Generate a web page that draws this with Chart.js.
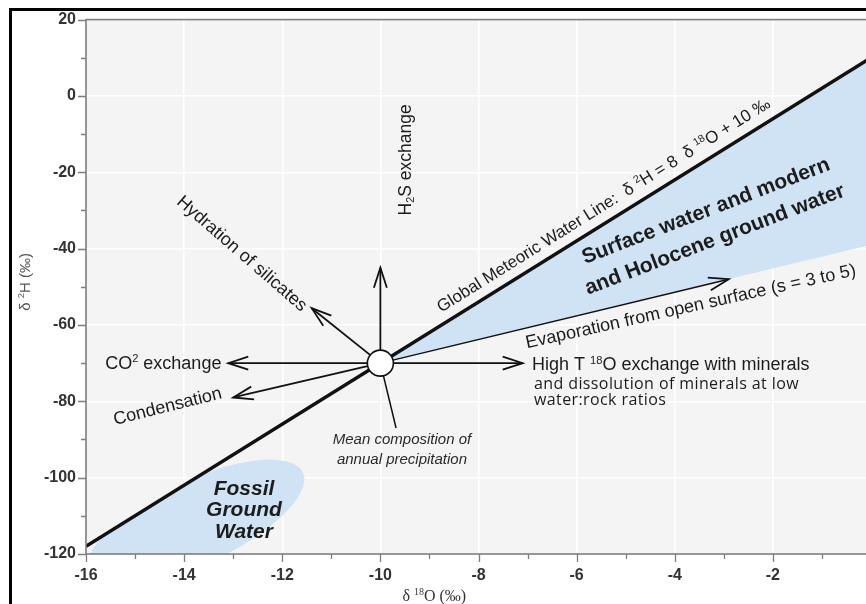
<!DOCTYPE html>
<html>
<head>
<meta charset="utf-8">
<script src="https://cdn.jsdelivr.net/npm/chart.js@4.4.1/dist/chart.umd.min.js"></script>
<style>
  html, body { margin: 0; padding: 0; background: #fff; overflow: hidden; }
  #wrap { position: relative; width: 890px; height: 604px; }
  #frame { position: absolute; left: 9px; top: 8px; width: 900px; height: 700px;
           border-left: 3px solid #000; border-top: 3px solid #000; pointer-events: none; }
</style>
</head>
<body>
<div id="wrap">
  <canvas id="isotopes" width="890" height="604"></canvas>
  <div id="frame"></div>
</div>
<script>
// axis ticks
const xMajorTicks = [-16, -14, -12, -10, -8, -6, -4, -2, 0];
const xMinorTicks = [-15, -13, -11, -9, -7, -5, -3, -1];
const yMajorTicks = [20, 0, -20, -40, -60, -80, -100, -120];
const yMinorTicks = [10, -10, -30, -50, -70, -90, -110];

// global meteoric water line, d2H = 8 d18O + 10
const gmwlX = [-16, 0];
const gmwlY = [-118, 10];

// mean composition of annual precipitation
const meanPrecip = [-10, -70];
const meanLineEnd = [-9.68, -87];

// surface / holocene water wedge between GMWL and evaporation line
const surfaceX = [-10, 0, 0];
const surfaceY = [-70, 10, -39];

// process arrows, all starting from meanPrecip
const processNames = ['H2S exchange', 'Hydration of silicates', 'CO2 exchange', 'Condensation', 'High T 18O exchange', 'Evaporation'];
const processX = [-10, -11.4, -13.1, -13.0, -7.1, -2.9];
const processY = [-45, -55.6, -70, -79, -70, -48];

// fossil ground water patch (centre)
const fossilCentre = [-13.76, -111.7];

const SANS = "'Liberation Sans', Arial, Helvetica, sans-serif";
const SERIF = "'Liberation Serif', 'Times New Roman', serif";
const INK = '#1c1c1c';
const BLUE = '#cfe3f4';

// text with ^{sup} and _{sub} runs
function parseRich(str) {
  const parts = [];
  const re = /([\^_])\{([^}]*)\}/g;
  let last = 0, m;
  while ((m = re.exec(str))) {
    if (m.index > last) parts.push({ text: str.slice(last, m.index), shift: 0 });
    parts.push({ text: m[2], shift: m[1] === '^' ? 1 : -1 });
    last = re.lastIndex;
  }
  if (last < str.length) parts.push({ text: str.slice(last), shift: 0 });
  return parts;
}

function drawRich(ctx, str, x, y, o) {
  const parts = parseRich(str);
  const fontFor = p => `${o.style || 'normal'} ${o.weight || 'normal'} ${p.shift ? o.size * 0.62 : o.size}px ${o.family || SANS}`;
  ctx.save();
  ctx.letterSpacing = (o.spacing || 0) + 'px';
  let total = 0;
  parts.forEach(p => { ctx.font = fontFor(p); p.w = ctx.measureText(p.text).width; total += p.w; });
  ctx.translate(x, y);
  ctx.rotate((o.angle || 0) * Math.PI / 180);
  ctx.fillStyle = o.color || INK;
  ctx.textBaseline = 'alphabetic';
  ctx.textAlign = 'left';
  let cx = o.align === 'center' ? -total / 2 : o.align === 'right' ? -total : 0;
  parts.forEach(p => {
    ctx.font = fontFor(p);
    const dy = p.shift > 0 ? -o.size * 0.38 : p.shift < 0 ? o.size * 0.2 : 0;
    ctx.fillText(p.text, cx, dy);
    cx += p.w;
  });
  ctx.restore();
}

// labels placed in data units (left end of baseline unless centred)
const notes = [
  { text: 'Global Meteoric Water Line:  δ ^{2}H = 8  δ ^{18}O + 10 ‰', x: -8.76, y: -56.8, angle: -32, size: 17 },
  { text: 'Surface water and modern', x: -5.83, y: -44.0, angle: -21, size: 21, weight: 'bold' },
  { text: 'and Holocene ground water', x: -5.77, y: -52.1, angle: -21, size: 21, weight: 'bold' },
  { text: 'Evaporation from open surface (s = 3 to 5)', x: -7.01, y: -66.1, angle: -12.5, size: 18 },
  { text: 'High T ^{18}O exchange with minerals', x: -6.91, y: -71.9, size: 18 },
  { text: 'and dissolution of minerals at low', x: -6.87, y: -76.8, size: 16, spacing: 0.4, family: "'Open Sans', sans-serif" },
  { text: 'water:rock ratios', x: -6.87, y: -81.0, size: 16, spacing: 0.4, family: "'Open Sans', sans-serif" },
  { text: 'Mean composition of', x: -9.56, y: -91.1, size: 15, style: 'italic', align: 'center', color: '#2a2a2a' },
  { text: 'annual precipitation', x: -9.56, y: -96.3, size: 15, style: 'italic', align: 'center', color: '#2a2a2a' },
  { text: 'Hydration of silicates', x: -14.17, y: -28.1, angle: 41, size: 18 },
  { text: 'H_{2}S exchange', x: -9.38, y: -31.3, angle: -90, size: 17.5 },
  { text: 'CO^{2} exchange', x: -15.61, y: -71.6, size: 18 },
  { text: 'Condensation', x: -15.41, y: -86.2, angle: -14, size: 18 },
  { text: 'Fossil', x: -12.78, y: -104.6, size: 21, weight: 'bold', style: 'italic', align: 'center' },
  { text: 'Ground', x: -12.78, y: -110.1, size: 21, weight: 'bold', style: 'italic', align: 'center' },
  { text: 'Water', x: -12.78, y: -115.8, size: 21, weight: 'bold', style: 'italic', align: 'center' }
];

const plotBackground = {
  id: 'plotBackground',
  beforeDraw(chart) {
    const { ctx, chartArea: a } = chart;
    ctx.save();
    ctx.fillStyle = '#f4f4f4';
    ctx.fillRect(a.left, a.top, a.width, a.height);
    ctx.restore();
  }
};

// ellipse under the GMWL, clipped by it
const fossilPatch = {
  id: 'fossilPatch',
  beforeDatasetsDraw(chart) {
    const { ctx, chartArea: a, scales: { x, y } } = chart;
    ctx.save();
    ctx.beginPath();
    ctx.rect(a.left, a.top, a.width, a.height);
    ctx.clip();
    ctx.beginPath();
    ctx.moveTo(x.getPixelForValue(gmwlX[0]), y.getPixelForValue(gmwlY[0]));
    ctx.lineTo(x.getPixelForValue(gmwlX[1]), y.getPixelForValue(gmwlY[1]));
    ctx.lineTo(a.right, a.bottom);
    ctx.lineTo(a.left, a.bottom);
    ctx.closePath();
    ctx.clip();
    ctx.fillStyle = BLUE;
    ctx.beginPath();
    ctx.ellipse(x.getPixelForValue(fossilCentre[0]), y.getPixelForValue(fossilCentre[1]),
      118, 42, -25 * Math.PI / 180, 0, Math.PI * 2);
    ctx.fill();
    ctx.restore();
  }
};

const arrowHeads = {
  id: 'arrowHeads',
  afterDatasetsDraw(chart) {
    const { ctx } = chart;
    chart.data.datasets.forEach((ds, i) => {
      if (!ds.arrowHead) return;
      const pts = chart.getDatasetMeta(i).data;
      const a = pts[pts.length - 2], b = pts[pts.length - 1];
      const ang = Math.atan2(b.y - a.y, b.x - a.x);
      const len = 21, spread = 18 * Math.PI / 180;
      ctx.save();
      ctx.strokeStyle = ds.borderColor;
      ctx.lineWidth = 1.8;
      ctx.lineJoin = 'miter';
      ctx.beginPath();
      ctx.moveTo(b.x - len * Math.cos(ang - spread), b.y - len * Math.sin(ang - spread));
      ctx.lineTo(b.x, b.y);
      ctx.lineTo(b.x - len * Math.cos(ang + spread), b.y - len * Math.sin(ang + spread));
      ctx.stroke();
      ctx.restore();
    });
  }
};

const noteLabels = {
  id: 'noteLabels',
  afterDatasetsDraw(chart) {
    const { ctx, scales: { x, y } } = chart;
    notes.forEach(n => drawRich(ctx, n.text, x.getPixelForValue(n.x), y.getPixelForValue(n.y), n));
  }
};

// frame, tick marks and axis titles
const axisDecor = {
  id: 'axisDecor',
  afterDraw(chart) {
    const { ctx, chartArea: a, scales: { x, y } } = chart;
    ctx.save();
    ctx.strokeStyle = '#7d7d7d';
    ctx.lineWidth = 1.6;
    ctx.strokeRect(a.left, a.top, a.width, a.height);
    ctx.lineWidth = 1.3;
    ctx.beginPath();
    xMajorTicks.concat(xMinorTicks).forEach(v => {
      const px = Math.round(x.getPixelForValue(v)) + 0.5;
      ctx.moveTo(px, a.bottom);
      ctx.lineTo(px, a.bottom + (xMajorTicks.includes(v) ? 8 : 5));
    });
    yMajorTicks.concat(yMinorTicks).forEach(v => {
      const py = Math.round(y.getPixelForValue(v)) + 0.5;
      ctx.moveTo(a.left, py);
      ctx.lineTo(a.left - (yMajorTicks.includes(v) ? 8 : 5), py);
    });
    ctx.stroke();
    ctx.restore();

    drawRich(ctx, 'δ ^{18}O (‰)', x.getPixelForValue(-8.9), chart.height - 3,
      { size: 16, family: SERIF, align: 'center', color: '#333' });
    drawRich(ctx, 'δ ^{2}H (‰)', 30, y.getPixelForValue(-48.7),
      { size: 15, angle: -90, align: 'center', color: '#555' });
  }
};

const line = (data, width, extra) => Object.assign({
  data, showLine: true, borderColor: '#111', borderWidth: width,
  pointRadius: 0, pointHoverRadius: 0, fill: false
}, extra || {});

const datasets = [
  {
    label: 'Mean composition of annual precipitation',
    data: [{ x: meanPrecip[0], y: meanPrecip[1] }],
    pointRadius: 13, pointBorderWidth: 1.6,
    pointBackgroundColor: '#ffffff', pointBorderColor: '#111'
  },
  ...processNames.map((name, i) => line(
    [{ x: meanPrecip[0], y: meanPrecip[1] }, { x: processX[i], y: processY[i] }],
    name === 'Evaporation' ? 1.5 : 1.8, { label: name, arrowHead: true })),
  line([{ x: meanPrecip[0], y: meanPrecip[1] }, { x: meanLineEnd[0], y: meanLineEnd[1] }], 1.5, { label: 'mean' }),
  line(gmwlX.map((v, i) => ({ x: v, y: gmwlY[i] })), 3.5, { label: 'GMWL' }),
  line(surfaceX.map((v, i) => ({ x: v, y: surfaceY[i] })), 0,
    { label: 'Surface water', fill: 'shape', backgroundColor: BLUE, borderColor: 'rgba(0,0,0,0)' })
];

const tickFont = { family: SANS, size: 16, weight: 'bold' };

new Chart(document.getElementById('isotopes'), {
  type: 'scatter',
  data: { datasets },
  options: {
    responsive: false,
    animation: false,
    events: [],
    layout: { padding: { top: 16, right: 19, left: 0, bottom: 0 } },
    plugins: { legend: { display: false }, tooltip: { enabled: false } },
    scales: {
      x: {
        type: 'linear', min: -16, max: 0,
        afterBuildTicks: s => { s.ticks = xMajorTicks.concat(xMinorTicks).sort((a, b) => a - b).map(v => ({ value: v })); },
        afterFit: s => { s.height = 50; },
        border: { display: false },
        grid: { color: c => (c.tick && xMajorTicks.includes(c.tick.value)) ? '#ffffff' : 'rgba(0,0,0,0)', lineWidth: 1.5, drawTicks: false },
        ticks: { autoSkip: false, maxRotation: 0, padding: 12, color: '#333', font: tickFont,
                 callback: v => xMajorTicks.includes(v) ? String(v) : '' }
      },
      y: {
        type: 'linear', min: -120, max: 20,
        afterBuildTicks: s => { s.ticks = yMajorTicks.concat(yMinorTicks).sort((a, b) => a - b).map(v => ({ value: v })); },
        afterFit: s => { s.width = 86; },
        border: { display: false },
        grid: { color: c => (c.tick && yMajorTicks.includes(c.tick.value)) ? '#ffffff' : 'rgba(0,0,0,0)', lineWidth: 1.5, drawTicks: false },
        ticks: { autoSkip: false, padding: 10, color: '#333', font: tickFont,
                 callback: v => yMajorTicks.includes(v) ? String(v) : '' }
      }
    }
  },
  plugins: [plotBackground, fossilPatch, arrowHeads, noteLabels, axisDecor]
});
</script>
</body>
</html>
